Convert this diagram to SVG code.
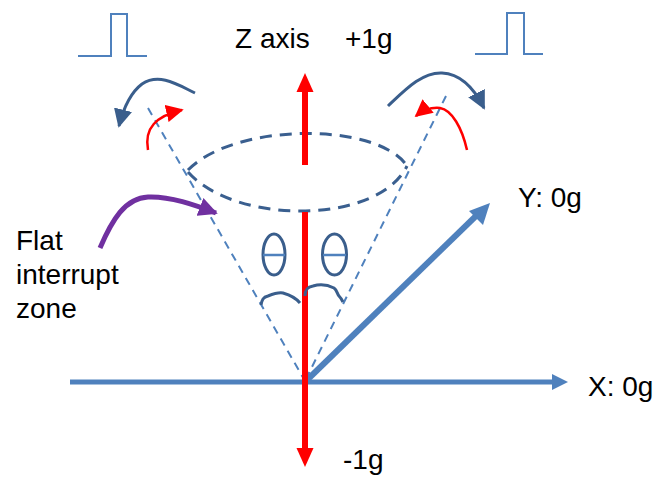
<svg xmlns="http://www.w3.org/2000/svg" width="657" height="477" viewBox="0 0 657 477">
<style>
.t{font-family:"Liberation Sans",Arial,sans-serif;font-size:28px;fill:#000}
.pulse{fill:none;stroke:#4f81bd;stroke-width:2}
.cone{fill:none;stroke:#4f81bd;stroke-width:2;stroke-dasharray:8 6}
.lens{fill:none;stroke:#3a5f8f;stroke-width:3;stroke-dasharray:12 8}
.rot{fill:none;stroke:#3a5e8c;stroke-width:3}
.rrot{fill:none;stroke:#ff0000;stroke-width:2.5}
.th{fill:none;stroke:#3a5e8c;stroke-width:3}
</style>
<defs>
<marker id="hb" viewBox="0 0 10 10" refX="9" refY="5" markerWidth="6.2" markerHeight="6.2" orient="auto" markerUnits="strokeWidth"><path d="M0,0 L10,5 L0,10 z" fill="#3a5e8c"/></marker>
<marker id="hr" viewBox="0 0 10 10" refX="9" refY="5" markerWidth="7" markerHeight="7" orient="auto" markerUnits="strokeWidth"><path d="M0,0 L10,5 L0,10 z" fill="#ff0000"/></marker>
<marker id="hp" viewBox="0 0 10 10" refX="9" refY="5" markerWidth="3.8" markerHeight="3.8" orient="auto" markerUnits="strokeWidth"><path d="M0,0 L10,5 L0,10 z" fill="#7030a0"/></marker>
</defs>

<g id="pulses">
<path class="pulse" d="M78,56 H111 V14 H127 V56 H147"/>
<path class="pulse" d="M475,54 H507 V13 H524 V54 H543"/>
</g>

<g id="cone">
<line class="cone" x1="148" y1="108" x2="305" y2="381"/>
<line class="cone" x1="446" y1="96" x2="305" y2="381"/>
<path class="lens" d="M188,170 C235,122 378,122 407,166"/>
<path class="lens" d="M188,172 C235,225 378,225 407,166"/>
</g>

<g id="axes">
<line x1="70" y1="382" x2="553" y2="382" stroke="#4f81bd" stroke-width="5"/>
<path d="M552,374 L568,382 L552,390 z" fill="#4f81bd"/>
<line x1="305" y1="382" x2="478" y2="214" stroke="#4f81bd" stroke-width="6"/>
<path d="M490,203 L483,225 L469,211 z" fill="#4f81bd"/>
<line x1="305" y1="90" x2="305" y2="165" stroke="#ff0000" stroke-width="6"/>
<path d="M305,73 L313.5,92 L296.5,92 z" fill="#ff0000"/>
<line x1="305" y1="212" x2="305" y2="450" stroke="#ff0000" stroke-width="6"/>
<path d="M296.5,448 L313.5,448 L305,467 z" fill="#ff0000"/>
</g>

<g id="rotations">
<path class="rot" d="M195,93 C180,86 160,72 142,84 C130,93 123,110 119,126" marker-end="url(#hb)"/>
<path class="rrot" d="M148,150 C144,128 156,116 182,110" marker-end="url(#hr)"/>
<path class="rot" d="M388,106 C405,90 422,72 442,73 C462,74 475,90 484,108" marker-end="url(#hb)"/>
<path class="rrot" d="M467,150 C462,128 452,110 440,108 C430,107 422,111 416,116" marker-end="url(#hr)"/>
</g>

<g id="purple-arrow">
<path d="M100,248 C112,220 125,198 148,197 C170,196 195,205 216,213" fill="none" stroke="#7030a0" stroke-width="5" marker-end="url(#hp)"/>
</g>

<g id="thetas">
<ellipse class="th" cx="274" cy="254.5" rx="11" ry="20.5"/>
<line x1="263" y1="255" x2="285" y2="255" stroke="#4f81bd" stroke-width="2.5"/>
<ellipse class="th" cx="334.5" cy="254.5" rx="12" ry="20.5"/>
<line x1="323" y1="255" x2="346" y2="255" stroke="#4f81bd" stroke-width="2.5"/>
<path class="th" d="M261,305 C262,300 263,297 268,296 C273,294 278,292 283,293 C290,295 296,298 300,303"/>
<path class="th" d="M305,296 C305,290 307,287 313,286 C320,284 328,285 334,288 C337,290 337,294 339,296 C341,298 342,300 343,302"/>
</g>

<g id="labels">
<text class="t" x="235" y="48" font-size="26">Z axis</text>
<text class="t" x="345" y="48" font-size="26">+1g</text>
<text class="t" x="518" y="207">Y: 0g</text>
<text class="t" x="588" y="396">X: 0g</text>
<text class="t" x="343" y="469">-1g</text>
<text class="t" x="16" y="250">Flat</text>
<text class="t" x="16" y="284">interrupt</text>
<text class="t" x="16" y="318">zone</text>
</g>
</svg>
